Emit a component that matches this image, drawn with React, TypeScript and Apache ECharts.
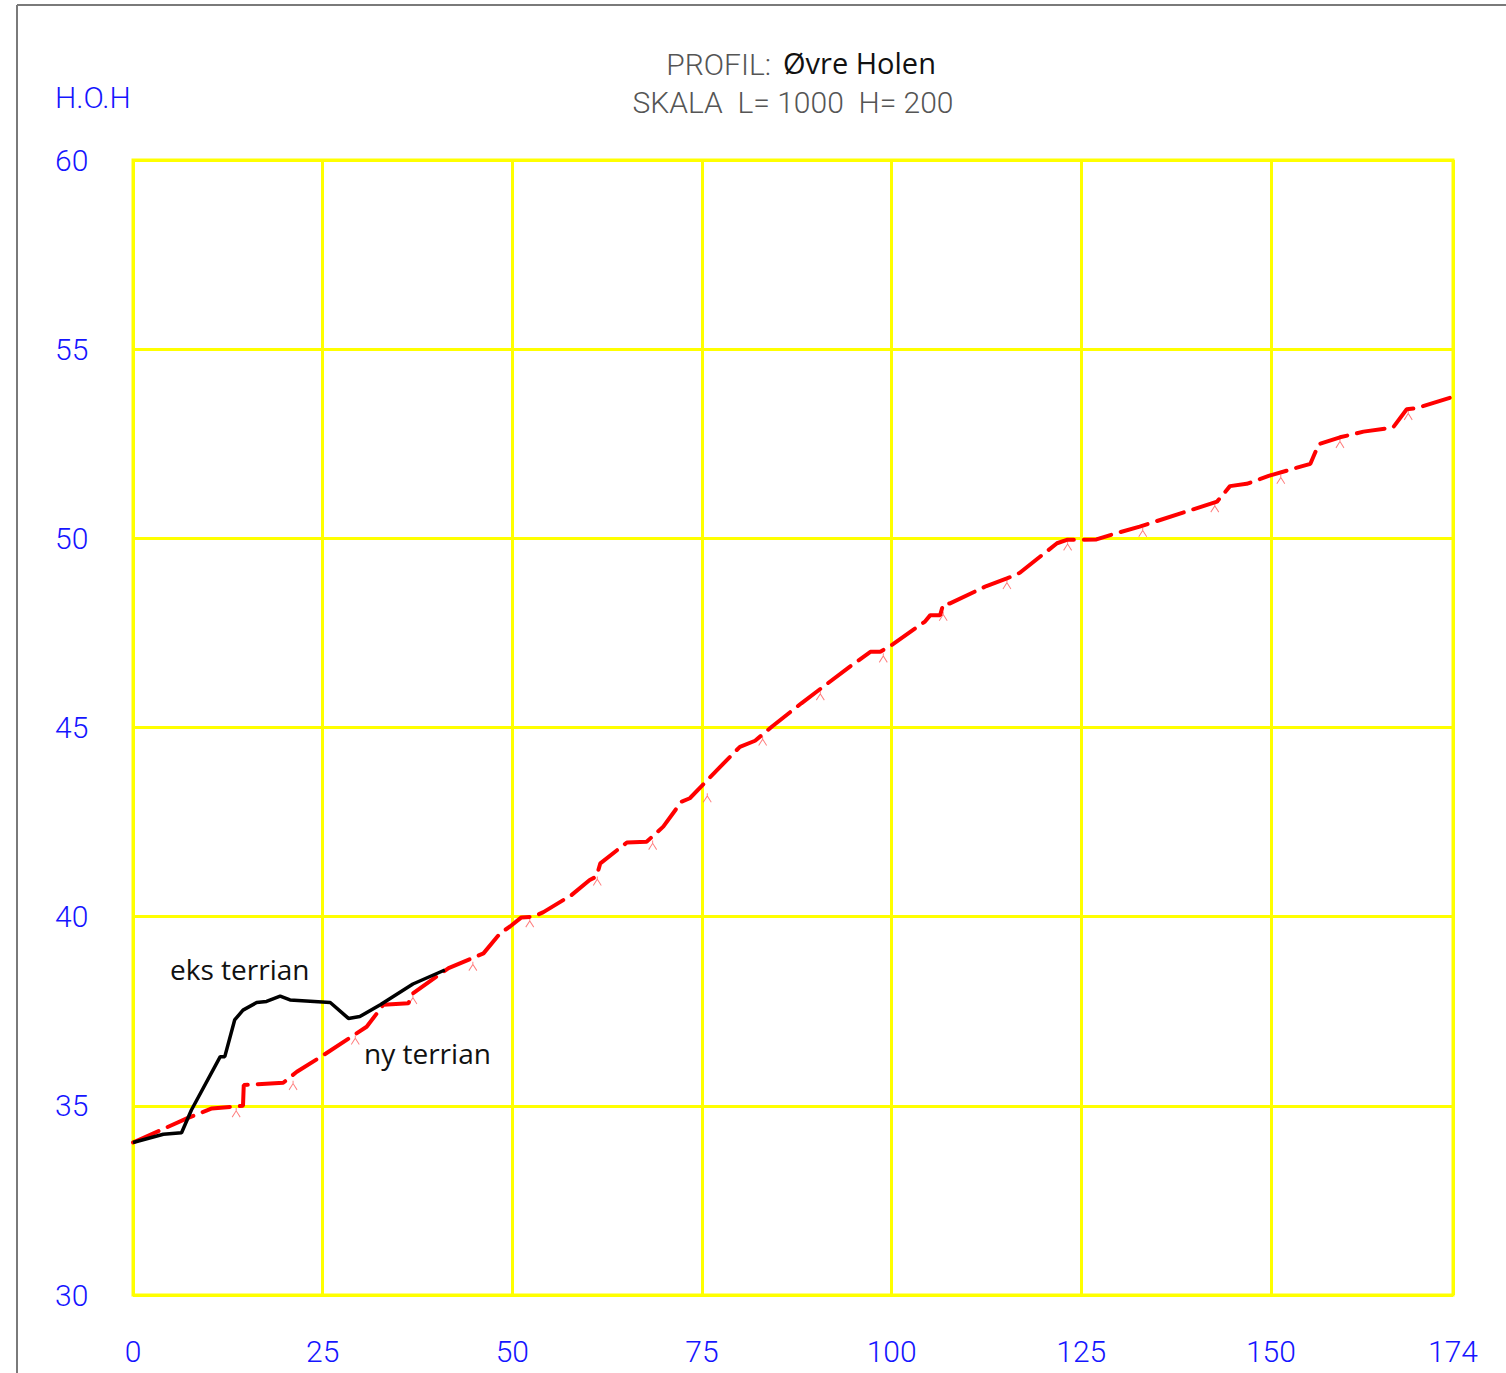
import React, { useEffect, useRef } from "react";
import * as echarts from "echarts";

const eksX = [0, 4.0, 6.4, 7.7, 11.5, 12.1, 13.4, 14.5, 16.3, 17.6, 19.4, 20.7, 26.0, 28.4, 29.9, 32.6, 36.9, 41.1];
const eksY = [34.03, 34.25, 34.29, 34.89, 36.3, 36.3, 37.27, 37.53, 37.73, 37.76, 37.9, 37.8, 37.73, 37.31, 37.36, 37.67, 38.22, 38.59];

const nyX = [0, 7.1, 10.4, 14.5, 14.6, 19.8, 21.6, 25.1, 30.8, 33.0, 36.3, 36.9, 41.6, 46.2, 48.4, 49.7, 51.2, 52.8, 54.1, 57.8, 60.2, 61.1, 61.6, 65.1, 67.7, 69.9, 72.3, 73.4, 77.4, 80.0, 82.0, 84.2, 88.1, 94.5, 97.2, 98.5, 100.0, 104.4, 105.1, 106.4, 106.8, 107.7, 112.5, 115.2, 116.9, 121.8, 123.1, 127.0, 129.2, 132.7, 142.9, 144.6, 146.8, 149.7, 155.2, 156.3, 159.1, 162.2, 166.1, 167.9, 169.2, 174];
const nyY = [34.03, 34.67, 34.93, 35.0, 35.55, 35.61, 35.9, 36.34, 37.09, 37.67, 37.71, 37.97, 38.64, 39.03, 39.56, 39.74, 39.98, 40.0, 40.12, 40.57, 40.97, 41.06, 41.41, 41.96, 41.98, 42.38, 43.04, 43.13, 43.96, 44.49, 44.65, 45.02, 45.64, 46.61, 47.0, 47.0, 47.18, 47.8, 47.97, 47.97, 48.26, 48.28, 48.74, 48.94, 49.09, 49.87, 49.96, 49.97, 50.11, 50.31, 50.97, 51.38, 51.44, 51.65, 51.97, 52.49, 52.67, 52.82, 52.93, 53.41, 53.44, 53.74];

const markX = [13.6, 21.1, 29.3, 36.9, 44.8, 52.3, 61.2, 68.5, 75.7, 83.0, 90.6, 98.9, 106.8, 115.2, 123.2, 133.1, 142.6, 151.3, 159.1, 168.1];
const markY = [34.98, 35.7, 36.9, 37.97, 38.85, 40.0, 41.1, 42.05, 43.3, 44.8, 46.0, 47.0, 48.1, 48.94, 49.96, 50.32, 50.97, 51.72, 52.67, 53.41];

const xTicks = [0, 25, 50, 75, 100, 125, 150, 174];
const yTicks = [30, 35, 40, 45, 50, 55, 60];

const titleName = "Øvre Holen";
const titleScale = "SKALA  L= 1000  H= 200";
const yUnit = "H.O.H";
const eksLabel = "eks terrian";
const nyLabel = "ny terrian";

const CAD = "Roboto, 'DejaVu Sans', sans-serif";
const HUM = "'Open Sans', 'Noto Sans', sans-serif";
const BLUE = "#1515ff";
const YEL = "#ffff00";

export default function App() {
  const ref = useRef<HTMLDivElement>(null);
  useEffect(() => {
    if (!ref.current) return;
    const chart = echarts.init(ref.current, null, { renderer: "svg" });
    const zip = (a: number[], b: number[]) => a.map((v, i) => [v, b[i]]);
    chart.setOption({
      animation: false,
      backgroundColor: "#ffffff",
      grid: {
        left: 133, top: 160, width: 1320, height: 1135,
        show: true, borderColor: YEL, borderWidth: 3, backgroundColor: "transparent",
      },
      xAxis: {
        type: "value", min: 0, max: 174, interval: 25,
        axisLine: { show: false }, axisTick: { show: false },
        splitLine: { show: true, lineStyle: { color: YEL, width: 3 } },
        axisLabel: {
          color: BLUE, fontFamily: CAD, fontWeight: 300, fontSize: 30, margin: 41,
          showMaxLabel: true,
          formatter: (v: number) => (xTicks.indexOf(Math.round(v)) >= 0 ? String(Math.round(v)) : ""),
        },
      },
      yAxis: {
        type: "value", min: 30, max: 60, interval: 5,
        axisLine: { show: false }, axisTick: { show: false },
        splitLine: { show: true, lineStyle: { color: YEL, width: 3 } },
        axisLabel: {
          color: BLUE, fontFamily: CAD, fontWeight: 300, fontSize: 30, margin: 78, align: "left",
          formatter: (v: number) => (yTicks.indexOf(v) >= 0 ? String(v) : ""),
        },
      },
      series: [
        {
          type: "line", data: zip(nyX, nyY), showSymbol: false, symbol: "none",
          lineStyle: { color: "#ff0000", width: 4, type: [28, 10], cap: "round" }, z: 3,
        },
        {
          type: "line", data: zip(eksX, eksY), showSymbol: false, symbol: "none",
          lineStyle: { color: "#000000", width: 3.5 }, z: 4,
        },
        {
          type: "scatter", data: zip(markX, markY),
          symbol: "path://M0,10 L5,3 L10,10 M5,3 L5,0",
          symbolSize: [8, 9], symbolOffset: [0, 6],
          itemStyle: { color: "none", borderColor: "#ff5a5a", borderWidth: 1 }, z: 2,
        },
      ],
      graphic: [
        { type: "line", shape: { x1: 17, y1: 5, x2: 1506, y2: 5 }, style: { stroke: "#7a7a7a", lineWidth: 2 } },
        { type: "line", shape: { x1: 17, y1: 5, x2: 17, y2: 1373 }, style: { stroke: "#7a7a7a", lineWidth: 2 } },
        { type: "text", x: 55, y: 97, style: { text: yUnit, fill: BLUE, font: `300 30px ${CAD}`, textVerticalAlign: "middle" } },
        { type: "text", x: 771, y: 64, style: { text: "PROFIL:", fill: "#555555", font: `300 30px ${CAD}`, textAlign: "right", textVerticalAlign: "middle" } },
        { type: "text", x: 783, y: 62, style: { text: titleName, fill: "#111111", font: `500 29px ${HUM}`, textAlign: "left", textVerticalAlign: "middle" } },
        { type: "text", x: 793, y: 102, style: { text: titleScale, fill: "#555555", font: `300 30px ${CAD}`, textAlign: "center", textVerticalAlign: "middle" } },
        { type: "text", x: 170, y: 969, style: { text: eksLabel, fill: "#111111", font: `28px ${HUM}`, textVerticalAlign: "middle" } },
        { type: "text", x: 364, y: 1053, style: { text: nyLabel, fill: "#111111", font: `28px ${HUM}`, textVerticalAlign: "middle" } },
      ],
    });
    return () => chart.dispose();
  }, []);
  return <div ref={ref} style={{ position: "fixed", left: 0, top: 0, width: 1506, height: 1373 }} />;
}
